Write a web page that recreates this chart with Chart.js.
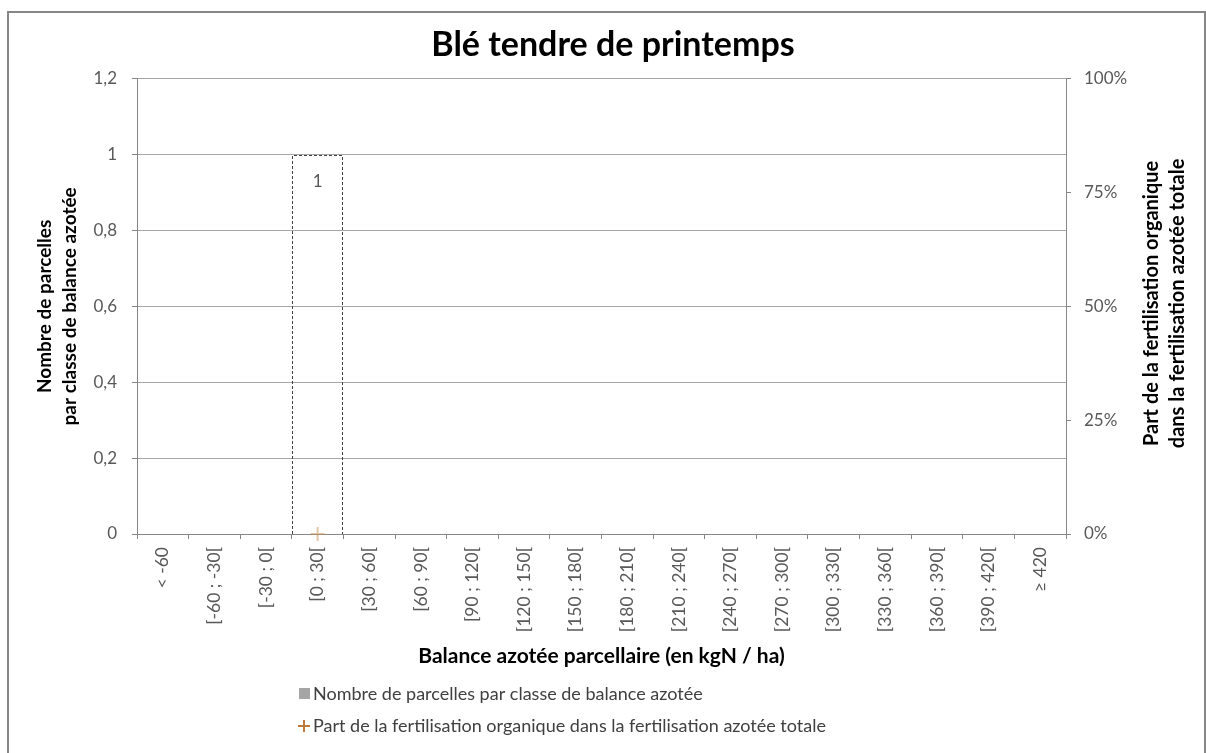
<!DOCTYPE html>
<html>
<head>
<meta charset="utf-8">
<script src="https://cdn.jsdelivr.net/npm/chart.js@4/dist/chart.umd.min.js"></script>
<style>
    body { margin: 0; background: #fff; }
    #wrap { width: 1206px; height: 753px; }
</style>
</head>
<body>
<div id="wrap"><canvas id="bilanChart" width="1206" height="753"></canvas></div>
<script>
// ============================================
// Balance azotée - Blé tendre de printemps
// ============================================

const chartTitle = 'Blé tendre de printemps';

const categories = [
    '< -60', '[-60 ; -30[', '[-30 ; 0[', '[0 ; 30[', '[30 ; 60[', '[60 ; 90[',
    '[90 ; 120[', '[120 ; 150[', '[150 ; 180[', '[180 ; 210[', '[210 ; 240[',
    '[240 ; 270[', '[270 ; 300[', '[300 ; 330[', '[330 ; 360[', '[360 ; 390[',
    '[390 ; 420[', '≥ 420'
];

// nombre de parcelles par classe (cases vides = null)
const nbParcelles = [null, null, null, 1, null, null, null, null, null, null, null, null, null, null, null, null, null, null];

// part de la fertilisation organique (%)
const partOrganique = [null, null, null, 0, null, null, null, null, null, null, null, null, null, null, null, null, null, null];

const yTickLabels = ['0', '0,2', '0,4', '0,6', '0,8', '1', '1,2'];
const y2TickLabels = ['0%', '25%', '50%', '75%', '100%'];

const serieBarres = 'Nombre de parcelles par classe de balance azotée';
const serieCroix = 'Part de la fertilisation organique dans la fertilisation azotée totale';
const titreX = 'Balance azotée parcellaire (en kgN / ha)';
const titreY = ['Nombre de parcelles', 'par classe de balance azotée'];
const titreY2 = ['Part de la fertilisation organique', 'dans la fertilisation azotée totale'];

const FONT = 'Lato, "Open Sans", sans-serif';
const GRID = '#a6a6a6';
const AXIS = '#868686';
const TEXT = '#595959';

// Outer frame, dashed bar outline, bar labels, right title, legend
const decorPlugin = {
    id: 'decor',
    afterDatasetsDraw(chart) {
        const ctx = chart.ctx;
        const meta = chart.getDatasetMeta(1);
        ctx.save();
        meta.data.forEach((bar, i) => {
            const v = nbParcelles[i];
            if (v === null) return;
            const left = Math.round(bar.x - bar.width / 2) + 0.5;
            const right = Math.round(bar.x + bar.width / 2) - 0.5;
            const top = Math.round(bar.y) + 0.5;
            const base = Math.round(bar.base);
            ctx.strokeStyle = '#404040';
            ctx.lineWidth = 1;
            ctx.setLineDash([3, 2]);
            ctx.beginPath();
            ctx.moveTo(left, base);
            ctx.lineTo(left, top);
            ctx.lineTo(right, top);
            ctx.lineTo(right, base);
            ctx.stroke();
            ctx.setLineDash([]);

            ctx.fillStyle = TEXT;
            ctx.font = '17px ' + FONT;
            ctx.textAlign = 'center';
            ctx.textBaseline = 'middle';
            ctx.fillText(String(v), bar.x, bar.y + 27);
        });
        ctx.restore();
    },
    afterDraw(chart) {
        const ctx = chart.ctx;
        const area = chart.chartArea;
        ctx.save();

        // frame
        ctx.strokeStyle = '#878787';
        ctx.lineWidth = 2;
        ctx.strokeRect(8, 12, 1197, 800);

        // right axis title (reads bottom to top)
        const yMid = (area.top + area.bottom) / 2 - 3;
        ctx.fillStyle = '#000';
        ctx.font = 'bold 20px ' + FONT;
        ctx.textAlign = 'center';
        ctx.textBaseline = 'middle';
        titreY2.forEach((line, i) => {
            ctx.save();
            ctx.translate(1152 + i * 26, yMid);
            ctx.rotate(-Math.PI / 2);
            ctx.fillText(line, 0, 0);
            ctx.restore();
        });

        // legend
        ctx.textAlign = 'left';
        ctx.font = '18px ' + FONT;
        ctx.fillStyle = '#a5a5a5';
        ctx.fillRect(299, 688, 11, 11);
        ctx.fillStyle = '#404040';
        ctx.fillText(serieBarres, 313, 694);

        ctx.strokeStyle = '#c0783a';
        ctx.lineWidth = 2;
        ctx.beginPath();
        ctx.moveTo(298, 726); ctx.lineTo(310, 726);
        ctx.moveTo(304, 720); ctx.lineTo(304, 732);
        ctx.stroke();
        ctx.fillText(serieCroix, 313, 726);

        ctx.restore();
    }
};

const ctx = document.getElementById('bilanChart').getContext('2d');

new Chart(ctx, {
    data: {
        labels: categories,
        datasets: [
            {
                type: 'line',
                label: serieCroix,
                data: partOrganique,
                yAxisID: 'y2',
                showLine: false,
                clip: false,
                pointStyle: 'cross',
                pointRadius: 7,
                pointBorderWidth: 2,
                pointBorderColor: 'rgba(200, 140, 80, 0.5)',
                pointBackgroundColor: 'rgba(200, 140, 80, 0.5)',
                order: 0
            },
            {
                type: 'bar',
                label: serieBarres,
                data: nbParcelles,
                yAxisID: 'y',
                backgroundColor: 'rgba(0,0,0,0)',
                borderWidth: 0,
                barPercentage: 1,
                categoryPercentage: 1,
                order: 1
            }
        ]
    },
    options: {
        responsive: false,
        animation: false,
        layout: { padding: { top: 0, left: 20, right: 0, bottom: 84 } },
        plugins: {
            legend: { display: false },
            tooltip: { enabled: false },
            title: {
                display: true,
                text: chartTitle,
                color: '#000',
                font: { family: FONT, size: 34, weight: 'bold' },
                padding: { top: 25, bottom: 13 }
            }
        },
        scales: {
            x: {
                offset: true,
                grid: {
                    offset: true,
                    drawOnChartArea: false,
                    drawTicks: true,
                    tickLength: 5,
                    color: AXIS
                },
                border: { color: AXIS, width: 1 },
                ticks: {
                    color: TEXT,
                    font: { family: FONT, size: 17.5 },
                    minRotation: 90,
                    maxRotation: 90,
                    autoSkip: false,
                    padding: 8
                },
                title: {
                    display: true,
                    text: titreX,
                    color: '#000',
                    font: { family: FONT, size: 21, weight: 'bold' },
                    padding: { top: 0, bottom: 0 }
                },
                afterFit: scale => { scale.height = 135; }
            },
            y: {
                position: 'left',
                min: 0,
                max: 1.2,
                ticks: {
                    stepSize: 0.2,
                    color: TEXT,
                    font: { family: FONT, size: 17 },
                    padding: 15,
                    callback: (v, i) => yTickLabels[i]
                },
                grid: { color: GRID, tickLength: 5, tickColor: AXIS },
                border: { color: AXIS, width: 1 },
                title: {
                    display: true,
                    text: titreY,
                    color: '#000',
                    font: { family: FONT, size: 19, weight: 'bold', lineHeight: 1.3 },
                    padding: { top: 13, bottom: 0 }
                },
                afterFit: scale => { scale.width = 117; }
            },
            y2: {
                position: 'right',
                min: 0,
                max: 100,
                ticks: {
                    stepSize: 25,
                    color: TEXT,
                    font: { family: FONT, size: 17 },
                    padding: 13,
                    callback: (v, i) => y2TickLabels[i]
                },
                grid: { drawOnChartArea: false, tickLength: 5, color: AXIS },
                border: { color: AXIS, width: 1 },
                afterFit: scale => { scale.width = 140; }
            }
        }
    },
    plugins: [decorPlugin]
});
</script>
</body>
</html>
